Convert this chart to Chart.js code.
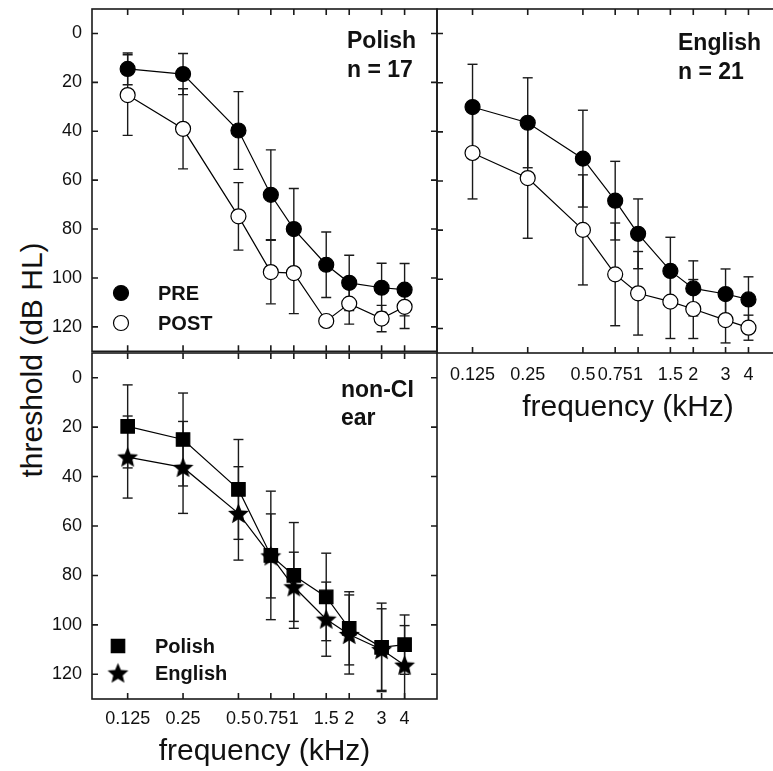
<!DOCTYPE html>
<html>
<head>
<meta charset="utf-8">
<script src="https://cdn.jsdelivr.net/npm/chart.js@4.4.0/dist/chart.umd.min.js"></script>
<style>
  html, body { margin: 0; padding: 0; background: #fff; overflow: hidden; width: 773px; height: 771px; }
  canvas { position: absolute; }
  #ytitle {
    position: absolute; left: 32px; top: 360px;
    transform: translate(-50%, -50%) rotate(-90deg);
    font: 30px "Liberation Sans", Arial, sans-serif; white-space: nowrap; color: #111;
  }
</style>
</head>
<body>
<div id="ytitle">threshold (dB HL)</div>
<canvas id="tl" width="450" height="360" style="left:0;top:0"></canvas>
<canvas id="tr" width="420" height="440" style="left:420px;top:0"></canvas>
<canvas id="bl" width="450" height="441" style="left:0;top:330px"></canvas>
<script>
// axes
const freqs = [0.125, 0.25, 0.5, 0.75, 1, 1.5, 2, 3, 4];
const freqLabels = ['0.125', '0.25', '0.5', '0.75', '1', '1.5', '2', '3', '4'];
const dbTicks = [0, 20, 40, 60, 80, 100, 120];

// Polish group, CI ear (mean, sd)
const polishPre = [14.5, 16.6, 39.7, 66, 80, 94.6, 102, 104, 104.8];
const polishPreSd = [6.5, 8.4, 15.9, 18.4, 16.6, 13.4, 11.3, 10, 10.7];
const polishPost = [25.2, 39, 74.8, 97.6, 98, 117.6, 110.5, 116.6, 111.8];
const polishPostSd = [16.5, 16.4, 13.8, 13, 16.6, 1.5, 8.4, 5.4, 8.9];

// English group, CI ear
const englishPre = [29.9, 36.3, 50.9, 68, 81.5, 96.6, 103.7, 106, 108.2];
const englishPreSd = [17.4, 18.3, 19.7, 16, 14.2, 13.7, 11.2, 10.2, 9.2];
const englishPost = [48.6, 58.8, 79.9, 98, 105.7, 109.1, 112.1, 116.6, 119.7];
const englishPostSd = [18.7, 24.5, 22.4, 20.9, 17, 15, 12, 9.3, 5.1];

// non-CI ear
const nonCiPolish = [19.7, 25, 45.2, 71.9, 80, 88.7, 101.4, 109.1, 108];
const nonCiPolishSd = [16.8, 18.8, 20.2, 26, 21.4, 17.7, 14.8, 17.9, 12];
const nonCiEnglish = [32.1, 36.3, 54.9, 72.1, 84.6, 97.7, 103.9, 110, 116.3];
const nonCiEnglishSd = [16.6, 18.6, 18.9, 17, 14, 15, 16, 16.5, 16];

const FONT = '"Liberation Sans", Arial, sans-serif';
const INK = '#111';

function starImage(size) {
    const c = document.createElement('canvas');
    c.width = c.height = size;
    const g = c.getContext('2d');
    const R = size / 2 - 0.5, r = R * 0.45, cx = size / 2, cy = size / 2 + size * 0.04;
    g.beginPath();
    for (let k = 0; k < 10; k++) {
        const a = -Math.PI / 2 + k * Math.PI / 5;
        const rad = k % 2 ? r : R;
        g.lineTo(cx + rad * Math.cos(a), cy + rad * Math.sin(a));
    }
    g.closePath();
    g.fillStyle = '#000';
    g.fill();
    return c;
}
const star = starImage(23);

function points(vals) {
    return freqs.map((f, i) => ({ x: f, y: vals[i] }));
}

// each bar = low point, high point, gap
function errPoints(vals, sds) {
    const out = [];
    freqs.forEach((f, i) => {
        out.push({ x: f, y: vals[i] - sds[i] });
        out.push({ x: f, y: vals[i] + sds[i] });
        out.push({ x: f, y: null });
    });
    return out;
}

function series(vals, style, fill, radius) {
    return {
        data: points(vals),
        borderColor: '#000',
        borderWidth: 1.2,
        pointStyle: style,
        pointRadius: radius,
        pointBackgroundColor: fill,
        pointBorderColor: '#000',
        pointBorderWidth: 1.2,
        order: 1
    };
}

function errSeries(vals, sds) {
    return {
        data: errPoints(vals, sds),
        borderColor: '#1a1a1a',
        borderWidth: 1.4,
        pointStyle: 'line',
        pointRadius: 5,
        pointBorderColor: '#1a1a1a',
        pointBorderWidth: 1.4,
        order: 2
    };
}

// box round the plot with inward ticks on all four sides
const framePlugin = {
    id: 'frame',
    afterDraw(chart) {
        const { ctx, chartArea: a, scales } = chart;
        const t = 6;
        ctx.save();
        ctx.strokeStyle = '#1a1a1a';
        ctx.lineWidth = 1.6;
        ctx.strokeRect(a.left, a.top, a.right - a.left, a.bottom - a.top);
        ctx.beginPath();
        freqs.forEach(f => {
            const x = scales.x.getPixelForValue(f);
            ctx.moveTo(x, a.top); ctx.lineTo(x, a.top + t);
            ctx.moveTo(x, a.bottom); ctx.lineTo(x, a.bottom - t);
        });
        dbTicks.forEach(v => {
            const y = scales.y.getPixelForValue(v);
            ctx.moveTo(a.left, y); ctx.lineTo(a.left + t, y);
            ctx.moveTo(a.right, y); ctx.lineTo(a.right - t, y);
        });
        ctx.stroke();
        ctx.restore();
    }
};

function notesPlugin(cfg) {
    return {
        id: 'notes',
        afterDraw(chart) {
            const { ctx, chartArea: a } = chart;
            ctx.save();
            ctx.fillStyle = INK;
            ctx.textBaseline = 'alphabetic';
            ctx.font = 'bold 23px ' + FONT;
            cfg.notes.forEach(n => ctx.fillText(n.text, a.left + n.dx, a.top + n.dy));
            ctx.font = 'bold 20px ' + FONT;
            ctx.textBaseline = 'middle';
            cfg.legend.forEach(item => {
                ctx.fillStyle = item.fill;
                ctx.strokeStyle = '#000';
                ctx.lineWidth = 1.2;
                Chart.helpers.drawPoint(ctx, { pointStyle: item.style, radius: item.radius, borderWidth: 1.2, rotation: 0 },
                    a.left + item.dx, a.top + item.dy);
                ctx.fillStyle = INK;
                ctx.fillText(item.text, a.left + item.dx + 37, a.top + item.dy + 1);
            });
            ctx.restore();
        }
    };
}

function makePanel(id, cfg) {
    const ctx = document.getElementById(id).getContext('2d');
    return new Chart(ctx, {
        type: 'line',
        data: { datasets: cfg.datasets },
        options: {
            responsive: false,
            animation: false,
            events: [],
            layout: { padding: cfg.padding },
            plugins: { legend: { display: false }, tooltip: { enabled: false } },
            scales: {
                x: {
                    type: 'logarithmic',
                    min: 0.08,
                    max: cfg.xMax,
                    display: cfg.showX,
                    afterBuildTicks: s => { s.ticks = freqs.map(v => ({ value: v })); },
                    afterFit: s => { s.height = cfg.showX ? cfg.xHeight : 0; s.paddingLeft = 0; s.paddingRight = 0; },
                    grid: { display: false, drawTicks: false },
                    border: { display: false },
                    ticks: {
                        autoSkip: false, maxRotation: 0, minRotation: 0,
                        padding: cfg.xLabelPad, color: INK,
                        font: { family: FONT, size: 18 },
                        callback: (v, i) => freqLabels[i]
                    },
                    title: {
                        display: true, text: 'frequency (kHz)', color: INK,
                        font: { family: FONT, size: 30 },
                        padding: { top: 0, bottom: cfg.titlePad }
                    }
                },
                y: {
                    reverse: true,
                    min: -10,
                    max: 130,
                    display: cfg.showY,
                    afterBuildTicks: s => { s.ticks = dbTicks.map(v => ({ value: v })); },
                    afterFit: s => { s.width = cfg.showY ? 92 : 0; s.paddingTop = 0; s.paddingBottom = 0; },
                    grid: { display: false, drawTicks: false },
                    border: { display: false },
                    ticks: { padding: 10, color: INK, font: { family: FONT, size: 18 } }
                }
            }
        },
        plugins: [framePlugin, notesPlugin(cfg)]
    });
}

makePanel('tl', {
    padding: { left: 0, top: 9, right: 13, bottom: 7 },
    xMax: 6, showX: false, showY: true, xHeight: 0, xLabelPad: 10, titlePad: 0,
    datasets: [
        series(polishPre, 'circle', '#000', 7.5),
        series(polishPost, 'circle', '#fff', 7.5),
        errSeries(polishPre, polishPreSd),
        errSeries(polishPost, polishPostSd)
    ],
    notes: [{ text: 'Polish', dx: 255, dy: 39 }, { text: 'n = 17', dx: 255, dy: 68 }],
    legend: [
        { style: 'circle', fill: '#000', radius: 7.5, text: 'PRE', dx: 29, dy: 284 },
        { style: 'circle', fill: '#fff', radius: 7.5, text: 'POST', dx: 29, dy: 314 }
    ]
});

makePanel('tr', {
    padding: { left: 17, top: 9, right: 21, bottom: 0 },
    xMax: 9.7, showX: true, showY: false, xHeight: 87, xLabelPad: 11, titlePad: 14,
    datasets: [
        series(englishPre, 'circle', '#000', 7.5),
        series(englishPost, 'circle', '#fff', 7.5),
        errSeries(englishPre, englishPreSd),
        errSeries(englishPost, englishPostSd)
    ],
    notes: [{ text: 'English', dx: 241, dy: 41 }, { text: 'n = 21', dx: 241, dy: 70 }],
    legend: []
});

makePanel('bl', {
    padding: { left: 0, top: 23, right: 13, bottom: 0 },
    xMax: 6, showX: true, showY: true, xHeight: 72, xLabelPad: 9, titlePad: 1,
    datasets: [
        series(nonCiPolish, 'rect', '#000', 9.5),
        series(nonCiEnglish, star, '#000', 10),
        errSeries(nonCiPolish, nonCiPolishSd),
        errSeries(nonCiEnglish, nonCiEnglishSd)
    ],
    notes: [{ text: 'non-CI', dx: 249, dy: 44 }, { text: 'ear', dx: 249, dy: 72 }],
    legend: [
        { style: 'rect', fill: '#000', radius: 9.5, text: 'Polish', dx: 26, dy: 293 },
        { style: star, fill: '#000', radius: 10, text: 'English', dx: 26, dy: 320 }
    ]
});
</script>
</body>
</html>
